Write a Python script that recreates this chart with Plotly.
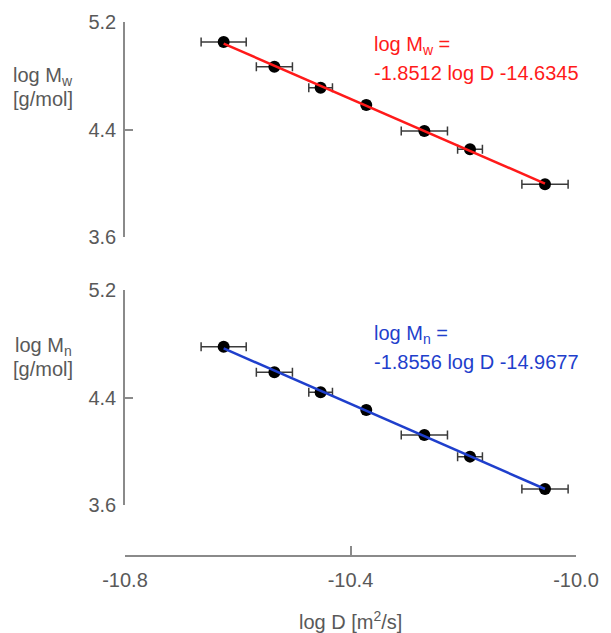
import numpy as np
import plotly.graph_objects as go

log_d = [-10.625, -10.535, -10.453, -10.372, -10.269, -10.188, -10.055]
log_d_err = [0.040, 0.032, 0.021, 0.006, 0.041, 0.022, 0.041]
log_mw = [5.051, 4.867, 4.711, 4.582, 4.389, 4.253, 3.992]
log_mn = [4.778, 4.588, 4.439, 4.307, 4.121, 3.960, 3.719]
x_ticks = [-10.8, -10.4, -10.0]
y_ticks = [3.6, 4.4, 5.2]
eq_mw = ["log M<sub>w</sub> =", "-1.8512 log D -14.6345"]
eq_mn = ["log M<sub>n</sub> =", "-1.8556 log D -14.9677"]

FONT = "Arial, Liberation Sans, sans-serif"
GRAY = "#8a8a8a"
TXT = "#595959"
RED = "#ff1a1a"
BLUE = "#1f3fcc"
FS = 20

OFF = 8  # page body margin
W, H = 603, 625
ML, MR, MT, MB = 125 - OFF, 35, 22 - OFF, 77
PW, PH = W - ML - MR, H - MT - MB


def px(x):
    return (x - OFF - ML) / PW


def py(y):
    return 1 - (y - OFF - MT) / PH


fig = go.Figure()

x_arr = np.array(log_d)
xs = np.array([x_arr.min(), x_arr.max()])
for yvals, ya, col in [(log_mw, "y2", RED), (log_mn, "y", BLUE)]:
    fig.add_trace(go.Scatter(x=log_d, y=yvals, mode="markers", yaxis=ya,
                             marker=dict(color="black", size=12),
                             error_x=dict(type="data", array=log_d_err, color="#3a3a3a",
                                          thickness=1.5, width=4.5),
                             showlegend=False))
    p = np.polyfit(x_arr, np.array(yvals), 1)
    fig.add_trace(go.Scatter(x=xs, y=np.polyval(p, xs), mode="lines",
                             line=dict(color=col, width=2.5), yaxis=ya,
                             showlegend=False, hoverinfo="skip"))

yax = dict(range=[3.6, 5.2], tickvals=y_ticks, ticktext=[f"{v:.1f}" for v in y_ticks],
           showline=True, linecolor=GRAY, linewidth=1.5, ticks="inside", ticklen=8,
           tickcolor=GRAY, tickwidth=1.5, showgrid=False, zeroline=False,
           ticklabelstandoff=3,
           tickfont=dict(family=FONT, size=FS, color=TXT), anchor="x")

fig.update_layout(
    width=W, height=H,
    margin=dict(l=ML, r=MR, t=MT, b=MB, autoexpand=False),
    plot_bgcolor="white", paper_bgcolor="white",
    xaxis=dict(range=[-10.8, -10.0], tickvals=x_ticks, ticktext=[f"{v:.1f}" for v in x_ticks],
               anchor="free", position=0, showline=True, linecolor=GRAY, linewidth=1.5,
               ticks="inside", ticklen=9, tickcolor=GRAY, tickwidth=1.5,
               showgrid=False, zeroline=False, ticklabelstandoff=6,
               tickfont=dict(family=FONT, size=FS, color=TXT)),
    yaxis=dict(domain=[py(505), py(290)], **yax),
    yaxis2=dict(domain=[py(237), py(22)], **yax),
)

anns = [
    dict(x=43, y=76, text="log M<sub>w</sub>"),
    dict(x=43, y=99, text="[g/mol]"),
    dict(x=43, y=346, text="log M<sub>n</sub>"),
    dict(x=43, y=369, text="[g/mol]"),
    dict(x=350, y=620, text="log D [m<sup>2</sup>/s]"),
]
for a in anns:
    fig.add_annotation(x=px(a["x"]), y=py(a["y"]), xref="paper", yref="paper",
                       text=a["text"], showarrow=False, xanchor="center", yanchor="middle",
                       font=dict(family=FONT, size=FS, color=TXT))

for lines, y0, col in [(eq_mw, 45, RED), (eq_mn, 334, BLUE)]:
    for i, t in enumerate(lines):
        fig.add_annotation(x=px(372), y=py(y0 + i * 28), xref="paper", yref="paper",
                           text=t, showarrow=False, xanchor="left", yanchor="middle",
                           font=dict(family=FONT, size=FS, color=col))

fig.write_html("out.html")
